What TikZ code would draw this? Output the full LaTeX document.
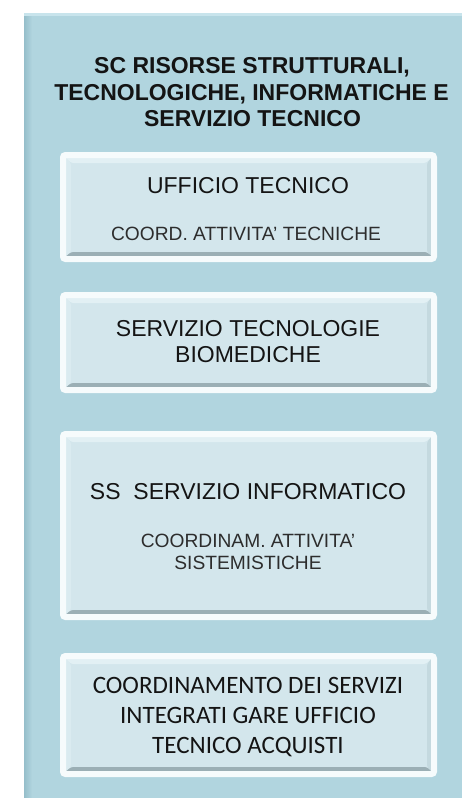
\documentclass[tikz,border=0pt]{standalone}
\usepackage{fontspec}
\setmainfont{Liberation Sans}
\newfontfamily\carl{Carlito}
\usetikzlibrary{calc}
\definecolor{panelfill}{RGB}{177,213,223}
\definecolor{paneledge}{RGB}{150,190,202}
\definecolor{paneltop}{RGB}{200,228,236}
\definecolor{boxfill}{RGB}{211,230,236}
\definecolor{outline}{RGB}{246,251,252}
\definecolor{bevtop}{RGB}{226,240,244}
\definecolor{bevleft}{RGB}{218,235,240}
\definecolor{bevright}{RGB}{196,217,223}
\definecolor{bevbot}{RGB}{155,175,181}
\definecolor{inktext}{RGB}{20,20,20}
\definecolor{greytext}{RGB}{45,45,45}
\begin{document}
\begin{tikzpicture}[x=1pt,y=-1pt,
  panelbox/.style={fill=panelfill, inner sep=0pt, outer sep=0pt},
  bevelbox/.style={draw=outline, line width=6pt, fill=boxfill, rounded corners=2.5pt,
    minimum width=371pt, inner sep=0pt, outer sep=0pt,
    path picture={
      \path (path picture bounding box.north west) coordinate (A)
            (path picture bounding box.north east) coordinate (B)
            (path picture bounding box.south east) coordinate (C)
            (path picture bounding box.south west) coordinate (D);
      \fill[bevtop] (A) -- (B) -- ($(B)+(-8pt,-8pt)$) -- ($(A)+(8pt,-8pt)$) -- cycle;
      \fill[bevleft] (A) -- (D) -- ($(D)+(8pt,7pt)$) -- ($(A)+(8pt,-8pt)$) -- cycle;
      \fill[bevright] (B) -- (C) -- ($(C)+(-7pt,7pt)$) -- ($(B)+(-7pt,-8pt)$) -- cycle;
      \fill[bevbot] (D) -- (C) -- ($(C)+(-7pt,7pt)$) -- ($(D)+(8pt,7pt)$) -- cycle;
    }},
  ttl/.style={anchor=base, text=inktext, inner sep=0pt, font=\fontsize{23}{26}\selectfont\bfseries},
  big/.style={anchor=base, text=inktext, inner sep=0pt, font=\fontsize{23}{27}\selectfont},
  small/.style={anchor=base, text=greytext, inner sep=0pt, font=\fontsize{19.2}{22}\selectfont},
  calib/.style={anchor=base, text=inktext, inner sep=0pt, font=\carl\fontsize{25}{30}\selectfont},
]
\useasboundingbox (0,0) rectangle (462,798);
\fill[white] (0,0) rectangle (462,798);
% panel
\node[panelbox, minimum width=438pt, minimum height=785pt] (panel) at (243,405.5) {};
\shade[left color=paneledge, right color=panelfill] (panel.north west) rectangle ($(panel.south west)+(8pt,0pt)$);
\fill[paneltop] (panel.north west) rectangle ($(panel.north east)+(0pt,-3pt)$);
% title
\node[ttl] (t1) at (252,73.5) {SC RISORSE STRUTTURALI,};
\node[ttl] (t2) at (251.5,100) {TECNOLOGICHE, INFORMATICHE E};
\node[ttl] (t3) at (252.5,126) {SERVIZIO TECNICO};
% boxes
\node[bevelbox, minimum height=104pt] (b1) at (248.5,207) {};
\node[bevelbox, minimum height=95pt] (b2) at (248.5,342.5) {};
\node[bevelbox, minimum height=183pt] (b3) at (248.5,525.5) {};
\node[bevelbox, minimum height=118pt] (b4) at (248.5,715) {};
% box 1
\node[big] (b1a) at (248,193) {UFFICIO TECNICO};
\node[small] (b1b) at (246,240) {COORD. ATTIVITA' TECNICHE};
% box 2
\node[big] (b2a) at (248,336) {SERVIZIO TECNOLOGIE};
\node[big] (b2b) at (248,362.7) {BIOMEDICHE};
% box 3
\node[big] (b3a) at (248,499) {SS\ \ SERVIZIO INFORMATICO};
\node[small] (b3b) at (248,547) {COORDINAM. ATTIVITA’};
\node[small] (b3c) at (248,569.5) {SISTEMISTICHE};
% box 4
\node[calib] (b4a) at (248,693) {COORDINAMENTO DEI SERVIZI};
\node[calib] (b4b) at (248,723) {INTEGRATI GARE UFFICIO};
\node[calib] (b4c) at (248,753) {TECNICO ACQUISTI};
\end{tikzpicture}
\end{document}
